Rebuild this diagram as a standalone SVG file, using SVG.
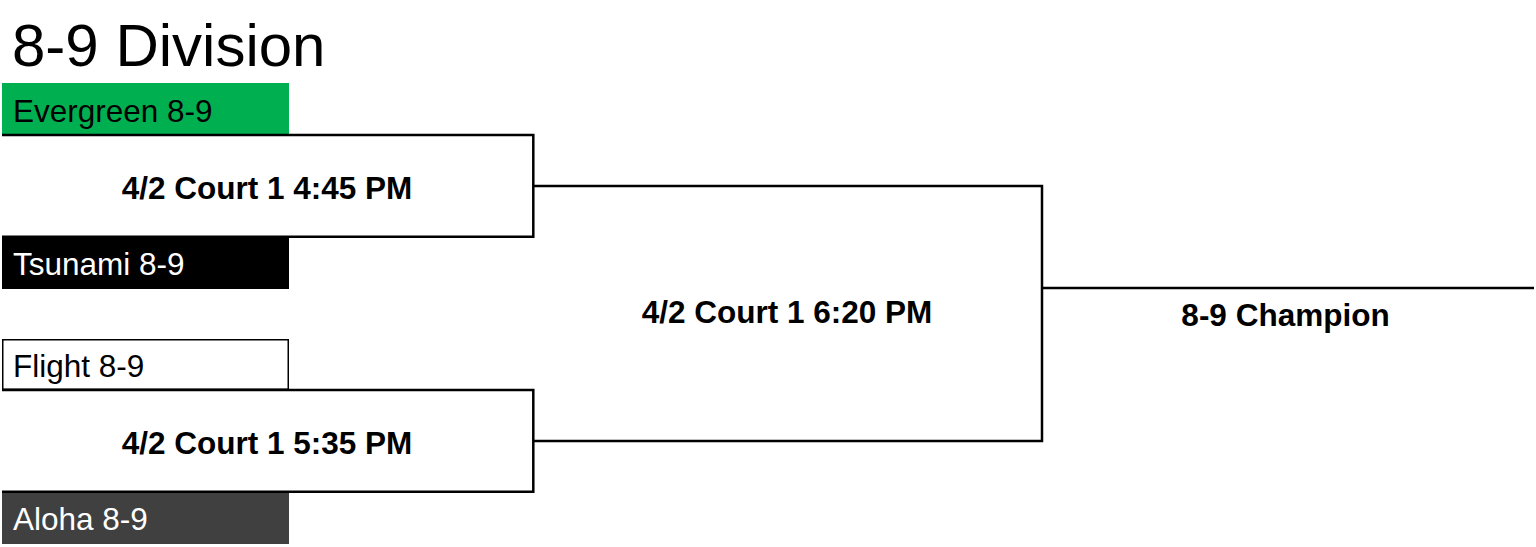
<svg xmlns="http://www.w3.org/2000/svg" width="1536" height="547" viewBox="0 0 1536 547">
<style>
  .team { font-family: "Liberation Sans", Arial, sans-serif; font-size: 31.5px; }
  .game { font-family: "Liberation Sans", Arial, sans-serif; font-size: 31.5px; font-weight: bold; text-anchor: middle; }
  .title { font-family: "Liberation Sans", Arial, sans-serif; font-size: 60px; }
  .bracket { fill: none; stroke: #000; stroke-width: 2.5; }
</style>
<rect x="0" y="0" width="1536" height="547" fill="#fff"/>
<text class="title" x="12" y="66">8-9 Division</text>

<g id="team-evergreen">
  <rect x="2" y="83" width="287" height="51" fill="#00b050"/>
  <text class="team" x="13" y="121.5" fill="#000">Evergreen 8-9</text>
</g>
<g id="team-tsunami">
  <rect x="2" y="237" width="287" height="52" fill="#000"/>
  <text class="team" x="13" y="274.5" fill="#fff">Tsunami 8-9</text>
</g>
<g id="team-flight">
  <rect x="2.75" y="339.75" width="285.5" height="49.5" fill="#fff" stroke="#000" stroke-width="1.5"/>
  <text class="team" x="13" y="376.5" fill="#000">Flight 8-9</text>
</g>
<g id="team-aloha">
  <rect x="2" y="492" width="287" height="52" fill="#404040"/>
  <text class="team" x="13" y="529.5" fill="#fff">Aloha 8-9</text>
</g>

<g id="game-1">
  <path class="bracket" d="M2,135 H533.3 V236.7 H2"/>
  <text class="game" x="267" y="199">4/2 Court 1 4:45 PM</text>
</g>
<g id="game-2">
  <path class="bracket" d="M2,390 H533.3 V491.7 H2"/>
  <text class="game" x="267" y="454">4/2 Court 1 5:35 PM</text>
</g>
<g id="game-final">
  <text class="game" x="787" y="323">4/2 Court 1 6:20 PM</text>
</g>
<g id="champion">
  <text class="game" x="1285.5" y="326">8-9 Champion</text>
</g>

<g id="connectors">
  <path class="bracket" d="M533.3,186 H1042 V441 H533.3"/>
  <path class="bracket" d="M1042,288 H1534"/>
</g>
</svg>
